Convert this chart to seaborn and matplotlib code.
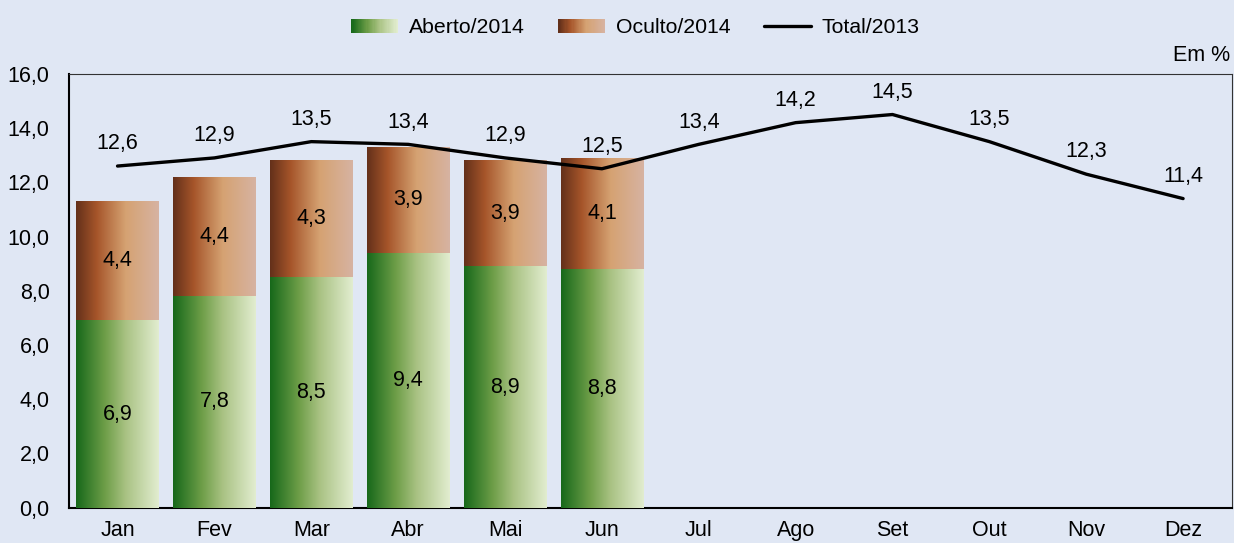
import numpy as np
import pandas as pd
import seaborn as sns
import matplotlib.pyplot as plt
from matplotlib.colors import LinearSegmentedColormap
from matplotlib.patches import Patch, Rectangle
from matplotlib.lines import Line2D
from matplotlib.legend_handler import HandlerBase

# data
months = ["Jan", "Fev", "Mar", "Abr", "Mai", "Jun", "Jul", "Ago", "Set", "Out", "Nov", "Dez"]
aberto_2014 = [6.9, 7.8, 8.5, 9.4, 8.9, 8.8]
oculto_2014 = [4.4, 4.4, 4.3, 3.9, 3.9, 4.1]
total_2013 = [12.6, 12.9, 13.5, 13.4, 12.9, 12.5, 13.4, 14.2, 14.5, 13.5, 12.3, 11.4]

bg = "#E0E7F4"
sns.set_theme(style="white", rc={"axes.facecolor": bg, "figure.facecolor": bg})
plt.rcParams["font.family"] = ["Liberation Sans", "DejaVu Sans"]
plt.rcParams["text.color"] = "black"
plt.rcParams["xtick.labelcolor"] = "black"
plt.rcParams["ytick.labelcolor"] = "black"
fs = 15.5

green = LinearSegmentedColormap.from_list(
    "g", [(0, "#16681A"), (0.35, "#6E9E48"), (0.6, "#A9C283"), (1, "#E2EDD0")])
brown = LinearSegmentedColormap.from_list(
    "b", [(0, "#63301A"), (0.25, "#A6552A"), (0.6, "#D5A272"), (1, "#D7B3A2")])

df = pd.DataFrame({
    "mes": months[:6],
    "aberto": aberto_2014,
    "total": np.array(aberto_2014) + np.array(oculto_2014),
})

fig, ax = plt.subplots(figsize=(12.34, 5.43), dpi=100)
fig.subplots_adjust(left=0.056, right=0.998, bottom=0.065, top=0.864)

sns.barplot(data=df, x="mes", y="total", order=months, width=0.85, color="#A6552A", ax=ax)
n_top = len(ax.patches)
sns.barplot(data=df, x="mes", y="aberto", order=months, width=0.85, color="#16681A", ax=ax)

# replace flat bars by horizontal gradients
grad = np.linspace(0, 1, 256).reshape(1, -1)
for i, p in enumerate(ax.patches):
    x0, y0 = p.get_x(), p.get_y()
    w, h = p.get_width(), p.get_height()
    if np.isnan(h) or h == 0:
        continue
    top = i < n_top
    ax.imshow(grad, cmap=brown if top else green, aspect="auto",
              extent=(x0, x0 + w, y0, y0 + h), zorder=2 if top else 3)
    p.set_visible(False)

sns.lineplot(x=np.arange(len(months)), y=total_2013, color="black", lw=2.4, ax=ax, zorder=5)

fmt = lambda v: f"{v:.1f}".replace(".", ",")
for i, v in enumerate(total_2013):
    ax.annotate(fmt(v), (i, v), xytext=(0, 16), textcoords="offset points",
                ha="center", va="center", fontsize=fs, zorder=6)
for i, (a, o) in enumerate(zip(aberto_2014, oculto_2014)):
    ax.text(i, a / 2, fmt(a), ha="center", va="center", fontsize=fs, zorder=6)
    ax.text(i, a + o / 2, fmt(o), ha="center", va="center", fontsize=fs, zorder=6)

ax.set_xlim(-0.5, 11.5)
ax.set_ylim(0, 16)
ax.set_yticks(np.arange(0, 16.1, 2))
ax.set_yticklabels([fmt(v) for v in np.arange(0, 16.1, 2)], fontsize=fs)
ax.set_xticks(range(len(months)))
ax.set_xticklabels(months, fontsize=fs)
ax.set_xticks(np.arange(-0.5, 11.6, 1), minor=True)
ax.tick_params(axis="x", which="major", length=0, pad=9)
ax.tick_params(axis="x", which="minor", length=5, width=1, color="black", direction="out")
ax.tick_params(axis="y", length=5, width=1, color="#555555", direction="out", pad=9)
ax.set_xlabel("")
ax.set_ylabel("")
for s in ["left", "bottom"]:
    ax.spines[s].set_color("black")
    ax.spines[s].set_linewidth(1.5)
for s in ["top", "right"]:
    ax.spines[s].set_color("#333333")
    ax.spines[s].set_linewidth(0.8)


class GradHandler(HandlerBase):
    def __init__(self, cmap):
        super().__init__()
        self.cmap = cmap

    def create_artists(self, legend, orig_handle, xdescent, ydescent, width, height, fontsize, trans):
        n = 40
        out = []
        for k in range(n):
            out.append(Rectangle((-xdescent + k * width / n, -ydescent), width / n * 1.1, height,
                                 facecolor=self.cmap(k / (n - 1)), edgecolor="none", transform=trans))
        return out


h_a = Patch(label="Aberto/2014")
h_o = Patch(label="Oculto/2014")
h_t = Line2D([], [], color="black", lw=2.4, label="Total/2013")
fig.legend(handles=[h_a, h_o, h_t], handler_map={h_a: GradHandler(green), h_o: GradHandler(brown)},
           loc="center", bbox_to_anchor=(0.515, 0.949), ncol=3, frameon=False, fontsize=15.3,
           handlelength=2.2, handleheight=0.65, handletextpad=0.5, columnspacing=1.6)

fig.text(0.997, 0.898, "Em %", ha="right", va="center", fontsize=fs)

plt.savefig("out.png", dpi=100, facecolor=bg)
